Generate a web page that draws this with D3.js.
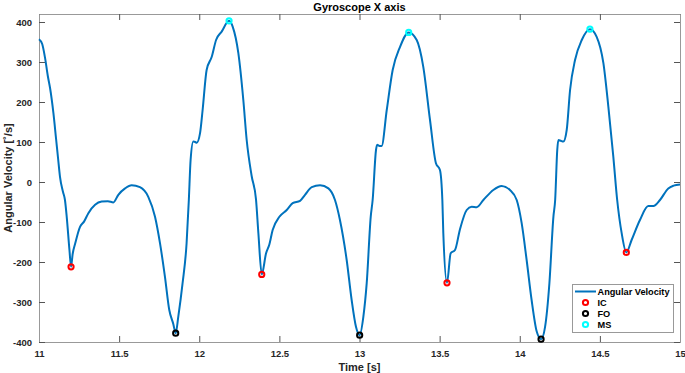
<!DOCTYPE html>
<html>
<head>
<meta charset="utf-8">
<script src="https://cdn.jsdelivr.net/npm/d3@7"></script>
<style>
  html, body { margin: 0; padding: 0; background: #fff; }
  svg { display: block; font-family: "Liberation Sans", Arial, Helvetica, sans-serif; }
</style>
</head>
<body>
<svg id="chart" width="685" height="373"></svg>
<script>
// ---- data ----
const time = [11.000,11.020,11.037,11.055,11.069,11.090,11.106,11.120,11.131,11.150,11.162,11.173,11.190,11.200,11.210,11.225,11.256,11.281,11.308,11.350,11.391,11.430,11.464,11.495,11.537,11.578,11.630,11.682,11.724,11.755,11.786,11.813,11.838,11.853,11.869,11.896,11.921,11.935,11.946,11.963,11.975,11.984,12.005,12.021,12.046,12.078,12.105,12.140,12.186,12.209,12.244,12.275,12.296,12.327,12.354,12.369,12.390,12.417,12.437,12.458,12.500,12.546,12.583,12.629,12.660,12.702,12.754,12.806,12.847,12.878,12.920,12.951,12.978,13.001,13.024,13.045,13.070,13.082,13.103,13.110,13.125,13.138,13.170,13.207,13.253,13.307,13.357,13.398,13.440,13.477,13.502,13.517,13.523,13.546,13.569,13.596,13.627,13.669,13.700,13.731,13.773,13.835,13.887,13.939,13.981,14.012,14.043,14.074,14.106,14.133,14.158,14.185,14.210,14.221,14.234,14.241,14.256,14.272,14.293,14.314,14.345,14.387,14.438,14.480,14.522,14.553,14.584,14.608,14.636,14.665,14.698,14.750,14.802,14.834,14.875,14.927,14.960,15.000];
const angularVelocity = [357,345,312,265,235,172,110,55,13,-25,-45,-87,-170,-212,-180,-155,-112,-99,-78,-57,-49,-48,-51,-32,-16,-8,-13,-37,-87,-153,-237,-320,-355,-378,-337,-253,-153,-45,55,101,100,98,122,180,280,313,355,376,403,388,322,205,105,15,-43,-128,-231,-178,-157,-120,-87,-70,-53,-47,-32,-13,-8,-16,-45,-95,-195,-295,-362,-383,-337,-253,-87,-45,80,93,90,90,180,280,338,374,355,288,155,47,30,-45,-128,-252,-178,-170,-118,-70,-62,-63,-45,-20,-10,-20,-45,-103,-195,-295,-374,-393,-362,-253,-87,-45,80,105,103,101,130,230,305,355,382,363,297,188,63,-45,-128,-176,-145,-95,-60,-60,-45,-16,-9,-6];

const icTime = [11.200, 12.390, 13.546, 14.665];
const icValue = [-212, -231, -252, -176];
const foTime = [11.853, 13.001, 14.133];
const foValue = [-378, -383, -393];
const msTime = [12.186, 13.307, 14.438];
const msValue = [403, 374, 382];

const xTicks = [11, 11.5, 12, 12.5, 13, 13.5, 14, 14.5, 15];
const yTicks = [-400, -300, -200, -100, 0, 100, 200, 300, 400];

const title = "Gyroscope X axis";
const xLabel = "Time [s]";
const yLabel = "Angular Velocity [˚/s]";
const legendLabels = ["Angular Velocity", "IC", "FO", "MS"];

// ---- layout ----
const W = 685, H = 373;
const L = 39, R = 680, T = 14, B = 342;
const lineColor = "#0072BD";
const markerColors = { IC: "#FF0000", FO: "#000000", MS: "#00FFFF" };
const textColor = "#262626";

const svg = d3.select("#chart");
const x = d3.scaleLinear().domain([11, 15]).range([L, R]);
const y = d3.scaleLinear().domain([-400, 420]).range([B, T]);

// axes (ticks inward, box)
const tickLen = 6;
const fmt = d => String(d);
svg.append("g").attr("transform", `translate(0,${B})`)
  .call(d3.axisBottom(x).tickValues(xTicks).tickSize(-tickLen).tickPadding(6).tickFormat(fmt))
  .call(g => g.select(".domain").attr("stroke", "#999"))
  .call(g => g.selectAll(".tick line").attr("stroke", "#555"))
  .call(g => g.selectAll("text").attr("fill", textColor).attr("font-size", 9.5).attr("font-weight", "bold").attr("dy", "0.9em"));
svg.append("g").attr("transform", `translate(0,${T})`)
  .call(d3.axisTop(x).tickValues(xTicks).tickSize(-tickLen).tickFormat(""))
  .call(g => g.select(".domain").attr("stroke", "#999"))
  .call(g => g.selectAll(".tick line").attr("stroke", "#555"));
svg.append("g").attr("transform", `translate(${L},0)`)
  .call(d3.axisLeft(y).tickValues(yTicks).tickSize(-tickLen).tickPadding(7).tickFormat(fmt))
  .call(g => g.select(".domain").attr("stroke", "#999"))
  .call(g => g.selectAll(".tick line").attr("stroke", "#555"))
  .call(g => g.selectAll("text").attr("fill", textColor).attr("font-size", 9.5).attr("font-weight", "bold"));
svg.append("g").attr("transform", `translate(${R},0)`)
  .call(d3.axisRight(y).tickValues(yTicks).tickSize(-tickLen).tickFormat(""))
  .call(g => g.select(".domain").attr("stroke", "#999"))
  .call(g => g.selectAll(".tick line").attr("stroke", "#555"));

// line
const pts = time.map((t, i) => [t, angularVelocity[i]]);
svg.append("path")
  .datum(pts)
  .attr("fill", "none")
  .attr("stroke", lineColor)
  .attr("stroke-width", 2)
  .attr("stroke-linejoin", "round")
  .attr("d", d3.line().x(d => x(d[0])).y(d => y(d[1])).curve(d3.curveMonotoneX));

// markers
function markers(ts, vs, color) {
  svg.append("g").selectAll("circle")
    .data(ts.map((t, i) => [t, vs[i]]))
    .join("circle")
    .attr("cx", d => x(d[0])).attr("cy", d => y(d[1]))
    .attr("r", 2.6)
    .attr("fill", "none")
    .attr("stroke", color)
    .attr("stroke-width", 2);
}
markers(icTime, icValue, markerColors.IC);
markers(foTime, foValue, markerColors.FO);
markers(msTime, msValue, markerColors.MS);

// title & labels
svg.append("text").attr("x", (L + R) / 2).attr("y", 10.5)
  .attr("text-anchor", "middle").attr("font-size", 11).attr("font-weight", "bold").attr("fill", "#000")
  .text(title);
svg.append("text").attr("x", (L + R) / 2).attr("y", 371)
  .attr("text-anchor", "middle").attr("font-size", 11).attr("font-weight", "bold").attr("fill", textColor)
  .text(xLabel);
svg.append("text")
  .attr("transform", `translate(12,${(T + B) / 2}) rotate(-90)`)
  .attr("text-anchor", "middle").attr("font-size", 11).attr("font-weight", "bold").attr("fill", textColor)
  .text(yLabel);

// legend
const lg = svg.append("g");
lg.append("rect").attr("x", 572.5).attr("y", 284.5).attr("width", 101).attr("height", 48)
  .attr("fill", "#fff").attr("stroke", "#999").attr("stroke-width", 1);
const rowY = [291.5, 302.5, 313.5, 324.5];
lg.append("line").attr("x1", 575).attr("x2", 596).attr("y1", rowY[0]).attr("y2", rowY[0])
  .attr("stroke", lineColor).attr("stroke-width", 2);
const mk = [null, markerColors.IC, markerColors.FO, markerColors.MS];
mk.forEach((c, i) => {
  if (c) lg.append("circle").attr("cx", 585.5).attr("cy", rowY[i]).attr("r", 2.6)
    .attr("fill", "none").attr("stroke", c).attr("stroke-width", 2);
});
legendLabels.forEach((s, i) => {
  lg.append("text").attr("x", 597.5).attr("y", rowY[i]).attr("dy", "0.35em")
    .attr("font-size", 9.2).attr("font-weight", "bold").attr("fill", "#000").text(s);
});
</script>
</body>
</html>
